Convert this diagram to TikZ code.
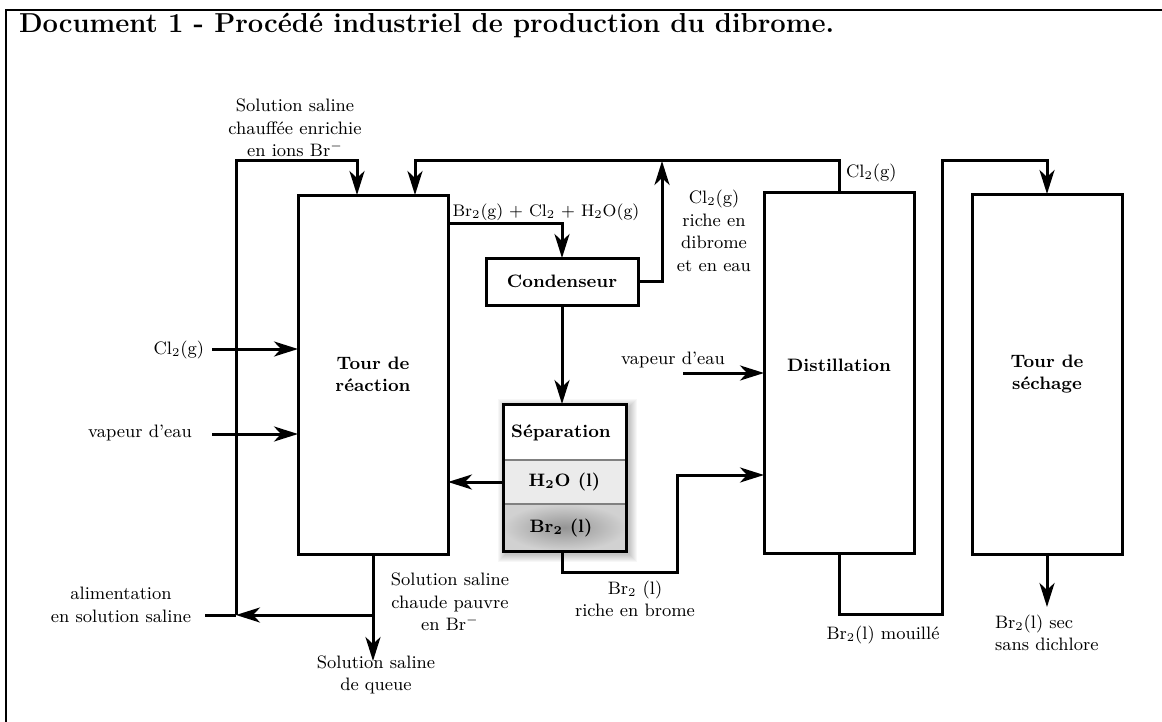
\documentclass[tikz,border=0pt]{standalone}
\usetikzlibrary{arrows.meta}
\begin{document}
\begin{tikzpicture}[x=0.5pt,y=-0.5pt,
  every node/.style={font=\fontsize{9}{11.3}\selectfont, inner sep=0pt, outer sep=0pt},
  lbl/.style={align=center},
  unit/.style={draw, line width=1.5pt, font=\fontsize{9}{11.3}\selectfont\bfseries, align=center},
  flow/.style={line width=1.5pt},
  arr/.style={flow, -{Stealth[length=12pt,width=7.5pt,inset=3.5pt]}},
]
\useasboundingbox (0,0) rectangle (1162,722);
% frame
\draw[line width=0.6pt] (6,722) -- (6,10) -- (1162,10);
\node[anchor=base west, font=\fontsize{13.7}{16}\selectfont\bfseries] (title) at (19,33)
  {Document 1 - Procédé industriel de production du dibrome.};

% units
\node[unit, minimum width=75pt, minimum height=179.5pt] (tour) at (373,374.5) {Tour de\\réaction};
\node[unit, minimum width=76pt, minimum height=23.5pt] (cond) at (562,281.5) {Condenseur};
\node[unit, minimum width=75pt, minimum height=180.5pt, text depth=7pt] (dist) at (839,372.5) {Distillation};
\node[unit, minimum width=75pt, minimum height=180pt] (sech) at (1047,374) {Tour de\\séchage};

% separation unit with shadow
\foreach \r in {1,2,...,8}
  \fill[black, opacity=0.03] (506-\r,407-\r) rectangle (629+\r,554+\r);
\fill[white] (503,404) rectangle (626,460);
\fill[black!8] (503,460) rectangle (626,504);
\shade[inner color=black!42, outer color=black!18] (503,504) rectangle (626,551);
\draw[gray, line width=0.6pt] (503,460) -- (626,460) (503,504) -- (626,504);
\node[draw, line width=1.5pt, minimum width=61.5pt, minimum height=73.5pt] (sep) at (564.5,477.5) {};
\node[font=\fontsize{9}{11.3}\selectfont\bfseries] (septxt) at (561,433) {Séparation};
\node[font=\fontsize{9}{11.3}\selectfont\bfseries, minimum width=61.5pt, minimum height=22pt] (h2o) at (564.5,482) {H\textsubscript{2}O (l)};
\node[font=\fontsize{9}{11.3}\selectfont\bfseries] (brl) at (561,527.5) {Br\textsubscript{2} (l)};

% connectors
\coordinate (queue) at (373,661);
\coordinate (jq) at (373,615);
\coordinate (jl) at (236,615);
\coordinate (alim) at (205,615);
\coordinate (tin1) at (357,161);
\draw[arr] (tour.south) -- (queue);
\draw[arr] (jq) -- (jl);
\draw[flow] (alim) -- (jl);
\draw[arr] (jl) |- (tin1) -- (tin1 |- tour.north);

\coordinate (clin) at (212,349);
\coordinate (vin) at (212,434);
\draw[arr] (clin) -- (clin -| tour.west);
\draw[arr] (vin) -- (vin -| tour.west);

\coordinate (tout) at (448,223);
\draw[arr] (tout) -| (cond.north);

\coordinate (ctop) at (662,161);
\draw[arr] (cond.east) -| (ctop);

\coordinate (tl) at (415,161);
\draw[arr] (dist.north) |- (tl) -- (tl |- tour.north);

\draw[arr] (cond.south) -- (cond.south |- sep.north);
\draw[arr] (h2o.west) -- (h2o.west -| tour.east);
\draw[arr] (sep.south -| cond.south) |- (677,572) |- (dist.west |- 0,475);

\coordinate (vd) at (683,373);
\draw[arr] (vd) -- (vd -| dist.west);

\draw[arr] (dist.south) |- (942,614) |- (sech.north |- 0,161) -- (sech.north);
\coordinate (sout) at (1047,607);
\draw[arr] (sech.south) -- (sout);

% labels
\node[lbl] (l1) at (295,128) {Solution saline\\chauffée enrichie\\en ions Br$^-$};
\node[anchor=east] (l2) at (204,350) {Cl$_2$(g)};
\node[anchor=east] (l3) at (192,433) {vapeur d'eau};
\node[lbl] (l4) at (121,605) {alimentation\\en solution saline};
\node[lbl] (l5) at (450,602) {Solution saline\\chaude pauvre\\en Br$^-$};
\node[lbl] (l6) at (376,675) {Solution saline\\de queue};
\node[lbl, font=\fontsize{8.4}{11}\selectfont] (l7) at (546,212) {Br$_2$(g) + Cl$_2$ + H$_2$O(g)};
\node[lbl] (l8) at (714,231) {Cl$_2$(g)\\riche en\\dibrome\\et en eau};
\node[anchor=west] (l9) at (846,173) {Cl$_2$(g)};
\node[lbl] (l10) at (673,360) {vapeur d'eau};
\node[lbl] (l11) at (635,599) {Br$_2$ (l)\\riche en brome};
\node[lbl] (l12) at (883,635) {Br$_2$(l) mouillé};
\node[align=left, anchor=west] (l13) at (995,633) {Br$_2$(l) sec\\sans dichlore};
\end{tikzpicture}
\end{document}
